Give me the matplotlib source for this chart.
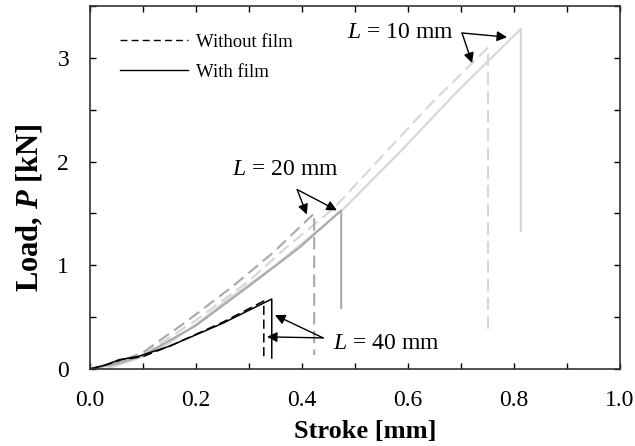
import numpy as np
import matplotlib
matplotlib.use("Agg")
import matplotlib.pyplot as plt
from matplotlib.ticker import MultipleLocator, FormatStrFormatter

plt.rcParams['font.family'] = ['Liberation Serif', 'DejaVu Serif']
plt.rcParams['mathtext.fontset'] = 'custom'
plt.rcParams['mathtext.rm'] = 'Liberation Serif'
plt.rcParams['mathtext.it'] = 'Liberation Serif:italic'
plt.rcParams['mathtext.bf'] = 'Liberation Serif:bold'
plt.rcParams['mathtext.bfit'] = 'Liberation Serif:italic:bold'

# Load-stroke curves (stroke in mm, load in kN)
# L = 10 mm
l10_wo_x = [0, 0.04, 0.10, 0.20, 0.30, 0.37, 0.46, 0.54, 0.64, 0.751, 0.751]
l10_wo_y = [0, 0.03, 0.14, 0.47, 0.85, 1.17, 1.55, 1.99, 2.54, 3.10, 0.376]
l10_w_x = [0, 0.03, 0.06, 0.10, 0.15, 0.20, 0.26, 0.345, 0.476, 0.59, 0.69, 0.813, 0.813]
l10_w_y = [0, 0.00, 0.05, 0.12, 0.25, 0.43, 0.67, 0.98, 1.53, 2.12, 2.66, 3.28, 1.33]
# L = 20 mm
l20_wo_x = [0, 0.05, 0.10, 0.18, 0.27, 0.345, 0.423, 0.423]
l20_wo_y = [0, 0.06, 0.16, 0.45, 0.80, 1.12, 1.50, 0.135]
l20_w_x = [0, 0.05, 0.10, 0.20, 0.30, 0.395, 0.474, 0.474]
l20_w_y = [0, 0.05, 0.13, 0.42, 0.80, 1.17, 1.53, 0.59]
# L = 40 mm
l40_wo_x = [0, 0.03, 0.06, 0.10, 0.15, 0.25, 0.328, 0.328]
l40_wo_y = [0, 0.04, 0.09, 0.12, 0.22, 0.45, 0.656, 0.106]
l40_w_x = [0, 0.03, 0.055, 0.09, 0.15, 0.25, 0.343, 0.343]
l40_w_y = [0, 0.04, 0.09, 0.12, 0.22, 0.44, 0.675, 0.106]

fig = plt.figure(figsize=(6.35, 4.46), dpi=100)
ax = fig.add_axes([0.1417, 0.1726, 0.8346, 0.8139])

dash = (6, 3)
lw = 1.5
ax.plot(l10_wo_x, l10_wo_y, color='#d6d6d6', lw=lw, dashes=dash)
ax.plot(l10_w_x, l10_w_y, color='#d6d6d6', lw=lw)
ax.plot(l20_wo_x, l20_wo_y, color='#a9a9a9', lw=lw, dashes=dash)
ax.plot(l20_w_x, l20_w_y, color='#a9a9a9', lw=lw)
ax.plot(l40_wo_x, l40_wo_y, color='black', lw=1.1, dashes=dash)
ax.plot(l40_w_x, l40_w_y, color='black', lw=1.1)

# legend entries drawn in black
ax.plot([], [], color='black', lw=1.0, dashes=(5, 3), label='Without film')
ax.plot([], [], color='black', lw=1.0, label='With film')
ax.legend(loc='upper left', frameon=False, fontsize=13.5, handlelength=3.6,
          bbox_to_anchor=(0.043, 0.945), handletextpad=0.45, labelspacing=0.7,
          borderaxespad=0)

arrow = dict(arrowstyle='-|>', color='black', lw=1.0, mutation_scale=15,
             shrinkA=0, shrinkB=0)
# L = 10 mm
ax.text(0.485, 3.24, r'$L$ = 10 mm', fontsize=17, va='center')
ax.annotate('', xy=(0.787, 3.20), xytext=(0.702, 3.24), arrowprops=arrow)
ax.annotate('', xy=(0.721, 2.95), xytext=(0.702, 3.24), arrowprops=arrow)
# L = 20 mm
ax.text(0.268, 1.92, r'$L$ = 20 mm', fontsize=17, va='center')
ax.annotate('', xy=(0.409, 1.49), xytext=(0.391, 1.73), arrowprops=arrow)
ax.annotate('', xy=(0.466, 1.53), xytext=(0.391, 1.73), arrowprops=arrow)
# L = 40 mm
ax.text(0.458, 0.25, r'$L$ = 40 mm', fontsize=17, va='center')
ax.annotate('', xy=(0.349, 0.52), xytext=(0.44, 0.30), arrowprops=arrow)
ax.annotate('', xy=(0.334, 0.31), xytext=(0.44, 0.30), arrowprops=arrow)

ax.set_xlim(0, 1.0)
ax.set_ylim(0, 3.5)
ax.xaxis.set_major_locator(MultipleLocator(0.2))
ax.xaxis.set_minor_locator(MultipleLocator(0.1))
ax.yaxis.set_major_locator(MultipleLocator(1))
ax.yaxis.set_minor_locator(MultipleLocator(0.5))
ax.xaxis.set_major_formatter(FormatStrFormatter('%.1f'))
ax.tick_params(which='both', direction='in', top=True, right=True,
               length=4.5, width=1.0, labelsize=17, pad=15)
for s in ax.spines.values():
    s.set_linewidth(1.2)
    s.set_color('#333333')

ax.set_xlabel('Stroke [mm]', fontsize=19, fontweight='bold')
ax.set_ylabel(r'Load, $\mathbfit{P}$ [kN]', fontsize=22, fontweight='bold')
ax.xaxis.set_label_coords(0.52, -0.172)
ax.xaxis.label.set_va('center')
ax.yaxis.set_label_coords(-0.113, 0.445)
ax.yaxis.label.set_va('center')

fig.savefig('out.png', dpi=100)
